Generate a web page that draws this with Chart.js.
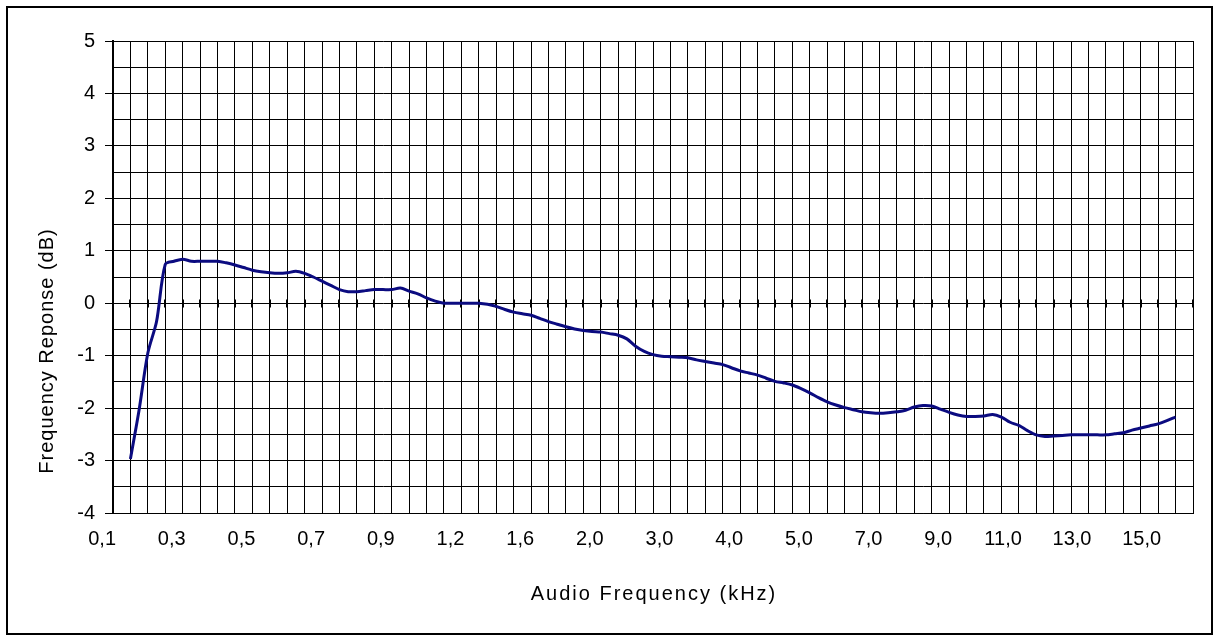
<!DOCTYPE html>
<html>
<head>
<meta charset="utf-8">
<title>Frequency Response</title>
<script src="https://cdn.jsdelivr.net/npm/chart.js@4.4.0/dist/chart.umd.min.js"></script>
<style>
    html, body { margin: 0; padding: 0; background: #fff; }
    #wrap { width: 1216px; height: 635px; }
</style>
</head>
<body>
<div id="wrap"><canvas id="myChart" width="1216" height="635"></canvas></div>
<script>
// tick labels shown under every 8th category (kHz)
var tickLabels = ["0,1", "0,3", "0,5", "0,7", "0,9", "1,2", "1,6", "2,0",
                  "3,0", "4,0", "5,0", "7,0", "9,0", "11,0", "13,0", "15,0"];

// measured response per category (dB), first two and last two are empty
var responseDb = [
    null, null,
    -2.97, -2.03, -0.95, -0.35, 0.74, 0.80, 0.84, 0.80, 0.80, 0.80,
    0.80, 0.77, 0.73, 0.68, 0.63, 0.60, 0.58, 0.57, 0.58, 0.61,
    0.57, 0.50, 0.42, 0.34, 0.26, 0.22, 0.22, 0.24, 0.26, 0.26,
    0.26, 0.29, 0.23, 0.18, 0.10, 0.04, 0.00, 0.00, 0.00, 0.00,
    0.00, -0.02, -0.06, -0.12, -0.17, -0.20, -0.23, -0.29, -0.35, -0.40,
    -0.45, -0.49, -0.52, -0.54, -0.55, -0.58, -0.61, -0.68, -0.82, -0.92,
    -0.98, -1.01, -1.02, -1.03, -1.04, -1.08, -1.11, -1.14, -1.17, -1.23,
    -1.29, -1.33, -1.37, -1.43, -1.49, -1.52, -1.56, -1.63, -1.71, -1.80,
    -1.88, -1.94, -1.99, -2.03, -2.07, -2.09, -2.10, -2.09, -2.07, -2.04,
    -1.98, -1.95, -1.96, -2.02, -2.08, -2.13, -2.16, -2.16, -2.15, -2.12,
    -2.17, -2.27, -2.33, -2.43, -2.51, -2.54, -2.53, -2.52, -2.51, -2.51,
    -2.51, -2.51, -2.51, -2.49, -2.47, -2.42, -2.38, -2.34, -2.30, -2.24,
    -2.17,
    null, null
];

var gridEvery = 2;   // a vertical grid line every 2 categories
var labelEvery = 8;  // a label every 8 categories

var xTitle = "Audio Frequency (kHz)";
var yTitle = "Frequency Reponse (dB)";

var fontFamily = '"Liberation Sans", Arial, sans-serif';

// categories are just the sample positions
var categories = [];
for (var i = 0; i < responseDb.length; i++) {
    categories.push(i);
}

// outer frame, small cross ticks on the 0 dB line, axis titles
var framePlugin = {
    id: 'frame',
    beforeDraw: function (chart) {
        var ctx = chart.ctx;
        ctx.save();
        ctx.fillStyle = '#fff';
        ctx.fillRect(0, 0, chart.width, chart.height);
        ctx.restore();
    },
    beforeDatasetsDraw: function (chart) {
        var ctx = chart.ctx;
        var xs = chart.scales.x;
        var y0 = Math.round(chart.scales.y.getPixelForValue(0)) + 0.5;
        ctx.save();
        ctx.strokeStyle = '#000';
        ctx.lineWidth = 2;
        ctx.beginPath();
        xs.ticks.forEach(function (t) {
            var px = Math.round(xs.getPixelForValue(t.value));
            ctx.moveTo(px, y0 - 4);
            ctx.lineTo(px, y0 + 4);
        });
        ctx.stroke();
        ctx.restore();
    },
    afterDraw: function (chart) {
        var ctx = chart.ctx;
        var area = chart.chartArea;
        ctx.save();
        ctx.strokeStyle = '#000';
        ctx.lineWidth = 2;
        ctx.strokeRect(7, 7, 1205, 627);

        ctx.fillStyle = '#000';
        ctx.font = '20px ' + fontFamily;
        ctx.letterSpacing = '2px';
        ctx.textAlign = 'center';
        ctx.textBaseline = 'middle';
        ctx.fillText(xTitle, (area.left + area.right) / 2 + 1, 594);

        ctx.letterSpacing = '1px';
        ctx.translate(47, 351);
        ctx.rotate(-Math.PI / 2);
        ctx.fillText(yTitle, 0, 0);
        ctx.restore();
    }
};

var config = {
    type: 'line',
    data: {
        labels: categories,
        datasets: [{
            label: 'Response',
            data: responseDb,
            borderColor: '#0b0b80',
            borderWidth: 3,
            pointRadius: 0,
            tension: 0.3,
            fill: false
        }]
    },
    options: {
        responsive: false,
        animation: false,
        devicePixelRatio: 1,
        layout: {
            padding: {left: 0, top: 41, right: 23, bottom: 0}
        },
        plugins: {
            legend: {display: false},
            title: {display: false},
            tooltip: {enabled: false}
        },
        scales: {
            x: {
                type: 'category',
                offset: false,
                afterBuildTicks: function (scale) {
                    scale.ticks = scale.ticks.filter(function (t) {
                        return t.value % gridEvery === 0;
                    });
                },
                afterFit: function (scale) {
                    scale.height = 122;
                },
                grid: {
                    color: '#000',
                    lineWidth: 1,
                    drawTicks: false,
                    offset: false
                },
                border: {color: '#000', width: 1},
                ticks: {
                    autoSkip: false,
                    maxRotation: 0,
                    minRotation: 0,
                    align: 'end',
                    labelOffset: 3,
                    padding: 14,
                    color: '#000',
                    font: {family: fontFamily, size: 20},
                    callback: function (value) {
                        if (value % labelEvery === 0) {
                            return tickLabels[value / labelEvery] || '';
                        }
                        return '';
                    }
                }
            },
            y: {
                min: -4,
                max: 5,
                afterFit: function (scale) {
                    scale.width = 113;
                },
                grid: {
                    color: '#000',
                    lineWidth: 1,
                    tickLength: 8,
                    tickColor: function (ctx) {
                        return Number.isInteger(ctx.tick.value) ? '#000' : 'rgba(0,0,0,0)';
                    }
                },
                border: {color: '#000', width: 2},
                ticks: {
                    stepSize: 0.5,
                    autoSkip: false,
                    padding: 10,
                    color: '#000',
                    font: {family: fontFamily, size: 20},
                    callback: function (value) {
                        return Number.isInteger(value) ? String(value) : '';
                    }
                }
            }
        }
    },
    plugins: [framePlugin]
};

var myChart = new Chart(document.getElementById('myChart'), config);
</script>
</body>
</html>
